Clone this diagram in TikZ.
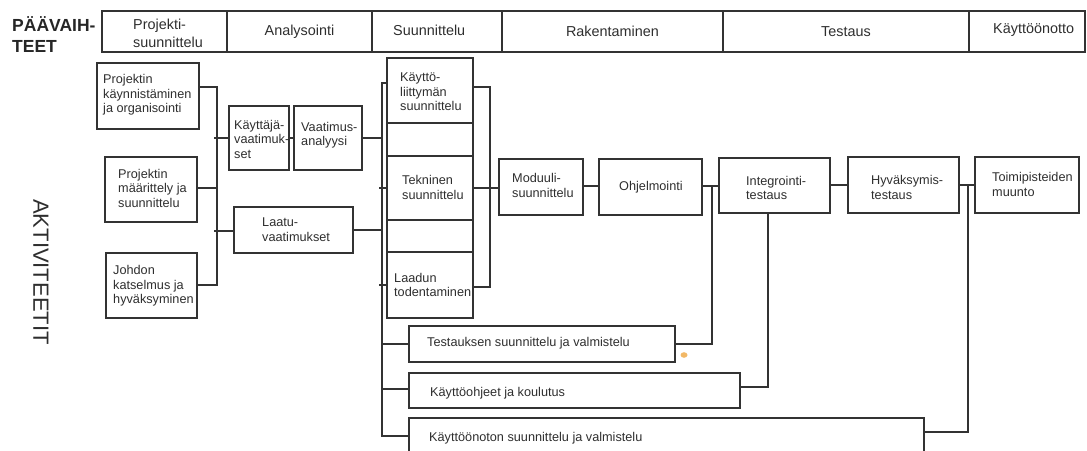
\documentclass[tikz,border=0pt]{standalone}
\usepackage{fontspec}
\setmainfont{Liberation Sans}
\definecolor{lc}{HTML}{333333}
\definecolor{tc}{HTML}{2E2E2E}
\definecolor{blob}{HTML}{F2B866}
\begin{document}
\begin{tikzpicture}[x=1pt,y=-1pt,
  box/.style={draw=lc, line width=1.5pt, inner sep=0pt, outer sep=0pt, anchor=north west},
  hcell/.style={box, minimum height=41pt, align=center, text=tc, font=\fontsize{14.4}{18}\selectfont},
  txt/.style={inner sep=0pt, anchor=west, align=left, text=tc, font=\fontsize{12.7}{14.5}\selectfont},
  conn/.style={draw=lc, line width=1.5pt}]
\clip (0,0) rectangle (1087,450);
\useasboundingbox (0,0) rectangle (1087,450);

% titles
\node[inner sep=0pt, anchor=west, align=left, text=black!85, font=\bfseries\fontsize{17.5}{21}\selectfont] (pv) at (12,35) {PÄÄVAIH-\\TEET};
\node[inner sep=0pt, rotate=-90, text=tc, font=\fontsize{22}{26}\selectfont] (akt) at (41,272) {AKTIVITEETIT};

% header cells
\node[hcell, minimum width=125pt] (h1) at (102,11) {};
\node[txt, font=\fontsize{14.4}{18}\selectfont] (h1t) at (133,33) {Projekti-\\suunnittelu};
\node[hcell, minimum width=145pt] (h2) at (227,11) {Analysointi};
\node[hcell, minimum width=130pt] (h3) at (372,11) {};
\node[txt, font=\fontsize{14.4}{18}\selectfont] (h3t) at (393,30) {Suunnittelu};
\node[hcell, minimum width=221pt] (h4) at (502,11) {Rakentaminen};
\node[hcell, minimum width=246pt] (h5) at (723,11) {Testaus};
\node[hcell, minimum width=116pt] (h6) at (969,11) {};
\node[txt, font=\fontsize{14.4}{18}\selectfont] (h6t) at (993,30) {Käyttöönotto};

% boxes
\node[box, minimum width=102pt, minimum height=66pt] (b1) at (97,63) {};
\node[box, minimum width=92pt, minimum height=65pt] (b2) at (105,157) {};
\node[box, minimum width=91pt, minimum height=65pt] (b3) at (106,253) {};
\node[box, minimum width=60pt, minimum height=64pt] (kv) at (229,106) {};
\node[box, minimum width=68pt, minimum height=64pt] (va) at (294,106) {};
\node[box, minimum width=119pt, minimum height=46pt] (lv) at (234,207) {};
\node[box, minimum width=86pt, minimum height=65pt] (kl) at (387,58) {};
\node[box, minimum width=86pt, minimum height=64pt] (tk) at (387,156) {};
\node[box, minimum width=86pt, minimum height=66pt] (ld) at (387,252) {};
\node[box, minimum width=84pt, minimum height=56pt] (mo) at (499,159) {};
\node[box, minimum width=103pt, minimum height=56pt] (oh) at (599,159) {};
\node[box, minimum width=111pt, minimum height=55pt] (it) at (719,158) {};
\node[box, minimum width=111pt, minimum height=56pt] (hy) at (848,157) {};
\node[box, minimum width=104pt, minimum height=56pt] (tp) at (975,157) {};
\node[box, minimum width=266pt, minimum height=36pt] (ts) at (409,326) {};
\node[box, minimum width=331pt, minimum height=35pt] (ko) at (409,373) {};
\node[box, minimum width=515pt, minimum height=45pt] (kn) at (409,418) {};

% texts
\node[txt] (b1t) at (103,95) {Projektin\\käynnistäminen\\ja organisointi};
\node[txt] (b2t) at (118,188) {Projektin\\määrittely ja\\suunnittelu};
\node[txt] (b3t) at (113,286) {Johdon\\katselmus ja\\hyväksyminen};
\node[txt] (kvt) at (234,139) {Käyttäjä-\\vaatimuk-\\set};
\node[txt] (vat) at (301,135) {Vaatimus-\\analyysi};
\node[txt] (lvt) at (262,229.5) {Laatu-\\vaatimukset};
\node[txt] (klt) at (400,92) {Käyttö-\\liittymän\\suunnittelu};
\node[txt] (tkt) at (402,187.5) {Tekninen\\suunnittelu};
\node[txt] (ldt) at (394,285) {Laadun\\todentaminen};
\node[txt] (mot) at (512,185.5) {Moduuli-\\suunnittelu};
\node[txt] (oht) at (619,187) {Ohjelmointi};
\node[txt] (itt) at (746,188) {Integrointi-\\testaus};
\node[txt] (hyt) at (871,187.5) {Hyväksymis-\\testaus};
\node[txt] (tpt) at (992,184.5) {Toimipisteiden\\muunto};
\node[txt] (tst) at (427,343) {Testauksen suunnittelu ja valmistelu};
\node[txt] (kot) at (430,393) {Käyttöohjeet ja koulutus};
\node[txt] (knt) at (429,438) {Käyttöönoton suunnittelu ja valmistelu};

% column of design boxes
\draw[conn] (kl.south west) -- (tk.north west);
\draw[conn] (kl.south east) -- (tk.north east);
\draw[conn] (tk.south west) -- (ld.north west);
\draw[conn] (tk.south east) -- (ld.north east);

% connectors: project planning
\coordinate (j1) at (217,87);
\coordinate (j1b) at (217,285);
\coordinate (j2) at (217,138);
\coordinate (j3) at (217,231);
\coordinate (j2s) at (214,138);
\coordinate (j3s) at (214,231);
\coordinate (j4) at (217,188);
\draw[conn] (b1.east |- j1) -- (j1) -- (j1b) -- (b3.east |- j1b);
\draw[conn] (b2.east |- j4) -- (j4);
\draw[conn] (j2s) -- (kv.west |- j2);
\draw[conn] (j3s) -- (lv.west |- j3);
\draw[conn] (kv.east |- j2) -- (va.west |- j2);

% design bus
\coordinate (d1) at (382,83);
\coordinate (d2) at (382,436);
\coordinate (d3) at (382,389);
\draw[conn] (kl.west |- d1) -- (d1) -- (d2) -- (kn.west |- d2);
\draw[conn] (va.east) -- (va.east -| d1);
\draw[conn] (lv.east) -- (lv.east -| d1);
\draw[conn] ([xshift=-3pt]tk.west -| d1) -- (tk.west);
\draw[conn] ([xshift=-3pt]ld.west -| d1) -- (ld.west);
\draw[conn] (ts.west) -- (ts.west -| d1);
\draw[conn] (d3) -- (ko.west |- d3);

% right of design
\coordinate (r1) at (490,87);
\coordinate (r2) at (490,287);
\coordinate (m1) at (590,186);
\coordinate (p1) at (838,185);
\draw[conn] (kl.east |- r1) -- (r1) -- (r2) -- (ld.east |- r2);
\draw[conn] (tk.east) -- (mo.west |- tk.east);
\draw[conn] (mo.east |- m1) -- (oh.west |- m1);
\draw[conn] (oh.east |- m1) -- (it.west |- m1);
\draw[conn] (it.east |- p1) -- (hy.west |- p1);
\draw[conn] (hy.east |- p1) -- (tp.west |- p1);

% lower activities
\coordinate (t1) at (712,186);
\draw[conn] (t1) -- (t1 |- ts.east) -- (ts.east);
\coordinate (k1) at (768,387);
\draw[conn] (ko.east |- k1) -- (k1) -- (k1 |- it.south);
\coordinate (q1) at (968,432);
\draw[conn] (kn.east |- q1) -- (q1) -- (q1 |- p1);

% small orange spot
\fill[blob] (684,355) ellipse (3.5 and 2.8);
\end{tikzpicture}
\end{document}
